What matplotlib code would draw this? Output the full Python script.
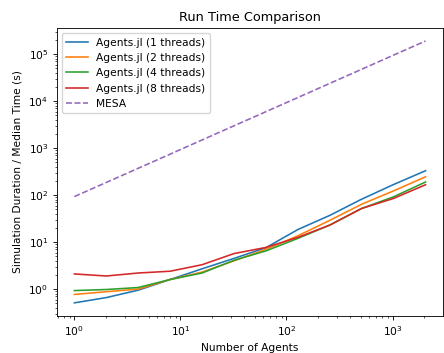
import numpy as np
import matplotlib
matplotlib.use("Agg")
import matplotlib.pyplot as plt

# number of agents
agents = [1, 2, 4, 8, 16, 32, 64, 128, 256, 512, 1024, 2048]

# median run times (s)
t_1 = [0.51, 0.66, 0.95, 1.6, 2.7, 4.5, 7.6, 18.5, 37, 82, 168, 330]
t_2 = [0.77, 0.88, 1.0, 1.6, 2.3, 4.0, 7.0, 13.6, 29, 64, 123, 245]
t_4 = [0.93, 0.98, 1.08, 1.6, 2.2, 4.1, 6.5, 12.0, 23, 52, 92, 190]
t_8 = [2.1, 1.9, 2.2, 2.4, 3.3, 5.7, 7.7, 12.6, 23, 52, 85, 166]
t_mesa = [93, 186, 372, 744, 1490, 2980, 5950, 11900, 23800, 47600, 95200, 190000]

# the reference looks like a default figure shrunk to ~77%
s = 0.77
plt.rcParams.update({
    "font.size": 10 * s,
    "lines.linewidth": 1.5 * s,
    "axes.linewidth": 0.8 * s,
    "xtick.major.size": 3.5 * s,
    "ytick.major.size": 3.5 * s,
    "xtick.minor.size": 2 * s,
    "ytick.minor.size": 2 * s,
    "xtick.major.width": 0.8 * s,
    "ytick.major.width": 0.8 * s,
    "xtick.minor.width": 0.6 * s,
    "ytick.minor.width": 0.6 * s,
})

fig = plt.figure(figsize=(4.44, 3.53), dpi=100)
ax = fig.add_axes([0.128, 0.105, 0.87, 0.816])

ax.plot(agents, t_1, label="Agents.jl (1 threads)")
ax.plot(agents, t_2, label="Agents.jl (2 threads)")
ax.plot(agents, t_4, label="Agents.jl (4 threads)")
ax.plot(agents, t_8, label="Agents.jl (8 threads)")
ax.plot(agents, t_mesa, "--", color="tab:purple", label="MESA")

ax.set_xscale("log")
ax.set_yscale("log")
ax.set_title("Run Time Comparison", fontsize=12 * s, pad=6 * s)
ax.set_xlabel("Number of Agents", labelpad=3)
ax.set_ylabel("Simulation Duration / Median Time (s)")
ax.legend(loc="upper left")

fig.savefig("out.png", dpi=100)
